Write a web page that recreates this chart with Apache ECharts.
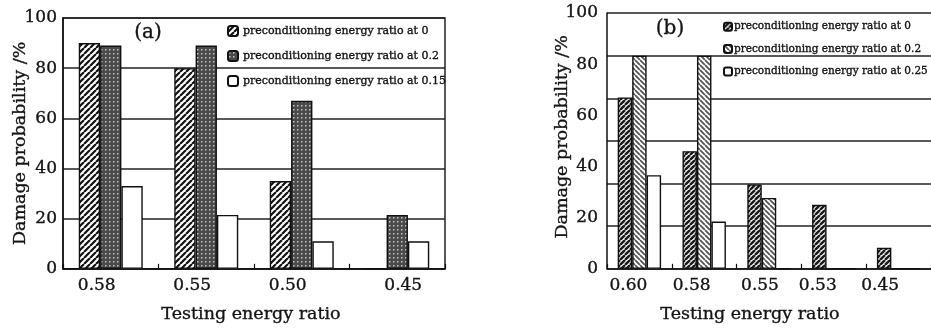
<!DOCTYPE html>
<html>
<head>
<meta charset="utf-8">
<script src="https://cdn.jsdelivr.net/npm/echarts@6/dist/echarts.min.js"></script>
<style>
html,body{margin:0;padding:0;background:#fff;}
#c{width:931px;height:329px;}
</style>
</head>
<body>
<div id="c"></div>
<script>
// ---------- data ----------
var catsA = ['0.58', '0.55', '0.50', '0.45'];
var aRatio0 = [90, 80, 35, 0];
var aRatio02 = [89, 89, 67, 21.5];
var aRatio015 = [33, 21.5, 11, 11];

var catsB = ['0.60', '0.58', '0.55', '0.53', '0.45'];
var bRatio0 = [67, 46, 33, 25, 8.2];
var bRatio02 = [83.3, 83.3, 27.7, 0, 0];
var bRatio025 = [36.6, 18.5, 0, 0, 0];

var yTicks = [0, 20, 40, 60, 80, 100];

var namesA = ['preconditioning energy ratio at 0', 'preconditioning energy ratio at 0.2', 'preconditioning energy ratio at 0.15'];
var namesB = ['preconditioning energy ratio at 0', 'preconditioning energy ratio at 0.2', 'preconditioning energy ratio at 0.25'];

// ---------- styles ----------
var labelShiftA = [-14, -14, -14, 6];
var labelShiftB = [-11, -12.5, -9, -16, -18.5];
var FONT = '"DejaVu Serif", "Liberation Serif", serif';
var INK = '#141414';
var HEAVY = { textBorderColor: INK, textBorderWidth: 0.35 };

function txt(size, extra) {
  var o = { fontFamily: FONT, fontSize: size, color: INK, textBorderColor: HEAVY.textBorderColor, textBorderWidth: HEAVY.textBorderWidth };
  if (extra) for (var k in extra) o[k] = extra[k];
  return o;
}

function hatch(size, dir, lineW, fg, bg) {
  var c = document.createElement('canvas');
  c.width = c.height = size;
  var g = c.getContext('2d');
  g.fillStyle = bg; g.fillRect(0, 0, size, size);
  g.strokeStyle = fg; g.lineWidth = lineW; g.beginPath();
  for (var k = -1; k <= 1; k++) {
    if (dir > 0) { g.moveTo(k * size, size); g.lineTo(k * size + size, 0); }
    else { g.moveTo(k * size, 0); g.lineTo(k * size + size, size); }
  }
  g.stroke();
  return { image: c, repeat: 'repeat' };
}
function dots(size, dot, fg, bg) {
  var c = document.createElement('canvas');
  c.width = c.height = size;
  var g = c.getContext('2d');
  g.fillStyle = bg; g.fillRect(0, 0, size, size);
  g.fillStyle = fg; g.fillRect(1, 1, dot, dot);
  return { image: c, repeat: 'repeat' };
}

var patA0 = hatch(6, 1, 2.2, '#111', '#fff');
var patA1 = dots(4, 1.5, '#c4c4c4', '#4a4a4a');
var patB0 = hatch(5, 1, 2.4, '#1a1a1a', '#f4f4f4');
var patB1 = hatch(5, -1, 1.8, '#555', '#fff');

function shiftedLabels(shifts) {
  var rich = {};
  shifts.forEach(function (s, i) {
    rich['l' + i] = txt(17, { padding: s < 0 ? [0, -2 * s, 0, 0] : [0, 0, 0, 2 * s] });
  });
  return rich;
}

function barSeries(name, data, fill, xi, yi) {
  return {
    type: 'bar', name: name, data: data,
    xAxisIndex: xi, yAxisIndex: yi,
    barGap: '0%', barCategoryGap: '33%',
    itemStyle: { color: fill, borderColor: '#111', borderWidth: 1.4 },
    emphasis: { disabled: true },
    animation: false
  };
}

var axisLineStyle = { show: true, lineStyle: { color: '#111', width: 1.5 } };

var option = {
  backgroundColor: '#fff',
  animation: false,
  grid: [
    { left: 63, top: 18, width: 382, height: 260, show: true, borderColor: '#222', borderWidth: 1.5, backgroundColor: 'transparent' },
    { left: 607, top: 13, width: 330, height: 265 }
  ],
  graphic: [
    { type: 'text', x: 148, y: 33, style: { text: '(a)', align: 'center', verticalAlign: 'middle', font: '20px ' + FONT, fill: INK, stroke: INK, lineWidth: 0.35 } },
    { type: 'text', x: 670, y: 29, style: { text: '(b)', align: 'center', verticalAlign: 'middle', font: '20px ' + FONT, fill: INK, stroke: INK, lineWidth: 0.35 } }
  ],
  legend: [
    {
      orient: 'vertical', left: 222, top: 20, itemWidth: 10, itemHeight: 10, itemGap: 13,
      data: namesA.map(function (n, i) { return 'a' + i + ':' + n; }),
      formatter: function (n) { return n.replace(/^[ab]\d:/, ''); },
      textStyle: txt(11),
      selectedMode: false
    },
    {
      orient: 'vertical', left: 718, top: 16, itemWidth: 8, itemHeight: 8, itemGap: 11,
      data: namesB.map(function (n, i) { return 'b' + i + ':' + n; }),
      formatter: function (n) { return n.replace(/^[ab]\d:/, ''); },
      textStyle: txt(10.5, { padding: [0, 0, 0, -3] }),
      selectedMode: false
    }
  ],
  xAxis: [
    {
      type: 'category', gridIndex: 0, data: catsA,
      axisLine: axisLineStyle,
      axisTick: { show: true, inside: true, length: 5, lineStyle: { color: '#111', width: 1.2 } },
      axisLabel: {
        margin: 8,
        formatter: function (v, i) { return '{l' + i + '|' + v + '}'; },
        rich: shiftedLabels(labelShiftA)
      },
      name: 'Testing energy ratio', nameLocation: 'middle', nameGap: 37,
      nameTextStyle: txt(17.5, { padding: [0, 6, 0, 0] })
    },
    {
      type: 'category', gridIndex: 1, data: catsB,
      axisLine: axisLineStyle,
      axisTick: { show: true, inside: true, length: 5, lineStyle: { color: '#111', width: 1.2 } },
      axisLabel: {
        margin: 8,
        formatter: function (v, i) { return '{l' + i + '|' + v + '}'; },
        rich: shiftedLabels(labelShiftB)
      },
      name: 'Testing energy ratio', nameLocation: 'middle', nameGap: 37,
      nameTextStyle: txt(17.5, { padding: [0, 38, 0, 0] })
    }
  ],
  yAxis: [
    {
      type: 'value', gridIndex: 0, min: yTicks[0], max: yTicks[yTicks.length - 1], interval: yTicks[1] - yTicks[0],
      axisLine: axisLineStyle, axisTick: { show: false },
      axisLabel: txt(17, { margin: 6 }),
      splitLine: { show: true, lineStyle: { color: '#222', width: 1.5 } },
      name: 'Damage probability /%', nameLocation: 'middle', nameGap: 34, nameMoveOverlap: false,
      nameTextStyle: txt(17.5)
    },
    {
      type: 'value', gridIndex: 1, min: yTicks[0], max: yTicks[yTicks.length - 1], interval: yTicks[1] - yTicks[0],
      position: 'left',
      axisLine: axisLineStyle, axisTick: { show: false },
      axisLabel: txt(17, { margin: 9 }),
      splitLine: { show: false },
      name: 'Damage probability /%', nameLocation: 'middle', nameGap: 36, nameMoveOverlap: false,
      nameTextStyle: txt(17.5, { padding: [0, 0, 0, 8] })
    },
    {
      type: 'value', gridIndex: 1, min: 0, max: 100, interval: 100 / 6,
      position: 'right',
      axisLine: { show: false }, axisTick: { show: false }, axisLabel: { show: false },
      splitLine: { show: true, lineStyle: { color: '#222', width: 1.5 } }
    }
  ],
  series: [
    barSeries('a0:' + namesA[0], aRatio0, patA0, 0, 0),
    barSeries('a1:' + namesA[1], aRatio02, patA1, 0, 0),
    barSeries('a2:' + namesA[2], aRatio015, '#fff', 0, 0),
    barSeries('b0:' + namesB[0], bRatio0, patB0, 1, 1),
    barSeries('b1:' + namesB[1], bRatio02, patB1, 1, 1),
    barSeries('b2:' + namesB[2], bRatio025, '#fff', 1, 1)
  ]
};

var chart = echarts.init(document.getElementById('c'), null, { renderer: 'canvas' });
chart.setOption(option);
</script>
</body>
</html>
